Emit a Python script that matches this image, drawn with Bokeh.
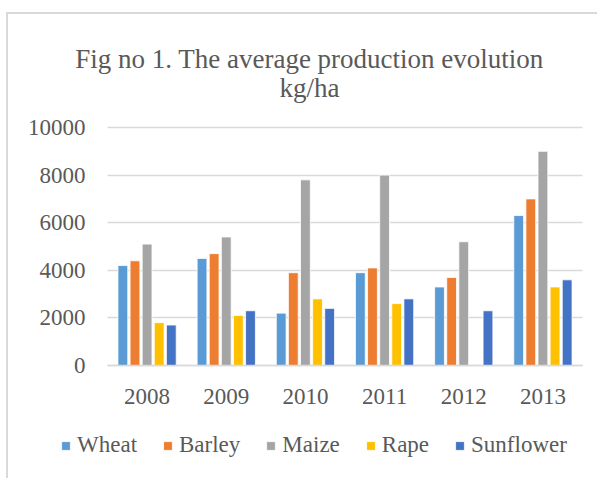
import numpy as np
from bokeh.plotting import figure
from bokeh.models import (Range1d, FixedTicker, Legend, LegendItem, Label,
                          ColumnDataSource)
from bokeh.embed import file_html
from bokeh.resources import INLINE

years = ["2008", "2009", "2010", "2011", "2012", "2013"]
wheat = [4200, 4500, 2200, 3900, 3300, 6300]
barley = [4400, 4700, 3900, 4100, 3700, 7000]
maize = [5100, 5400, 7800, 8000, 5200, 9000]
rape = [1800, 2100, 2800, 2600, 0, 3300]
sunflower = [1700, 2300, 2400, 2800, 2300, 3600]
series_names = ["Wheat", "Barley", "Maize", "Rape", "Sunflower"]
colors = ["#5B9BD5", "#ED7D31", "#A5A5A5", "#FFC000", "#4472C4"]
y_ticks = [0, 2000, 4000, 6000, 8000, 10000]
title_lines = ["Fig no 1. The average production evolution", "kg/ha"]

FONT = "Liberation Serif"
TXT = "#595959"
GRID = "#D9D9D9"

W, H = 597, 478
# pixel layout of the plotting area inside the canvas
PL, PR, PT, PB = 107, 582, 127, 365

pos = np.arange(1, len(years) + 1)          # category slots
x_lo, x_hi = pos[0] - 0.5, pos[-1] + 0.5
y_lo, y_hi = y_ticks[0], y_ticks[-1]
xs = (x_hi - x_lo) / (PR - PL)
ys = (y_hi - y_lo) / (PB - PT)

src = ColumnDataSource(dict(pos=pos, Wheat=wheat, Barley=barley, Maize=maize,
                            Rape=rape, Sunflower=sunflower))

p = figure(width=W, height=H,
           x_range=Range1d(x_lo - PL * xs, x_hi + (W - PR) * xs),
           y_range=Range1d(y_lo - (H - PB) * ys, y_hi + PT * ys),
           output_backend="svg", toolbar_location=None,
           min_border_left=0, min_border_right=0, min_border_top=0, min_border_bottom=0)
p.outline_line_color = None
p.background_fill_color = None
p.border_fill_color = None
p.styles = {
    "background": ("linear-gradient(#D9D9D9, #D9D9D9) 7px 12px / 100% 2px no-repeat, "
                   "linear-gradient(#D9D9D9, #D9D9D9) 6px 12px / 2px 100% no-repeat, white"),
}

pitch = 0.153
bar_w = 0.124
items = []
for i, (name, col) in enumerate(zip(series_names, colors)):
    r = p.vbar(x=pos + (i - 2) * pitch, top=src.data[name], width=bar_w,
               fill_color=col, line_color="white", line_width=0.8)
    items.append(LegendItem(label=name, renderers=[r]))

# grid
p.xgrid.grid_line_color = None
p.ygrid.ticker = FixedTicker(ticks=y_ticks)
p.ygrid.grid_line_color = GRID
p.ygrid.grid_line_width = 1.5
p.ygrid.cross_bounds = (x_lo, x_hi)

# axes drawn at fixed locations inside the canvas
yax = p.yaxis[0]
yax.fixed_location = x_lo
yax.ticker = FixedTicker(ticks=y_ticks)
yax.bounds = (y_lo, y_hi)
yax.axis_line_color = None
yax.major_tick_line_color = None
yax.minor_tick_line_color = None
yax.major_tick_out = 0
yax.major_label_standoff = 22
yax.major_label_text_font = FONT
yax.major_label_text_font_size = "23px"
yax.major_label_text_color = TXT

xax = p.xaxis[0]
xax.fixed_location = y_lo
xax.ticker = FixedTicker(ticks=list(pos))
xax.major_label_overrides = {int(k): v for k, v in zip(pos, years)}
xax.bounds = (x_lo, x_hi)
xax.axis_line_color = GRID
xax.axis_line_width = 1.5
xax.major_tick_line_color = None
xax.minor_tick_line_color = None
xax.major_tick_out = 0
xax.major_label_standoff = 23
xax.major_label_text_font = FONT
xax.major_label_text_font_size = "23px"
xax.major_label_text_color = TXT

legend = Legend(items=items, orientation="horizontal", location=(60, 20),
                padding=0, margin=0, spacing=25, label_standoff=6,
                glyph_width=11, glyph_height=11,
                label_text_font=FONT, label_text_font_size="23px",
                label_text_color=TXT, border_line_color=None,
                background_fill_alpha=0)
p.add_layout(legend, "center")

for txt, yy in zip(title_lines, [H - 58, H - 87]):
    p.add_layout(Label(x=309, y=yy, x_units="screen", y_units="screen", text=txt,
                       text_align="center", text_baseline="alphabetic",
                       text_font=FONT, text_font_size="27px", text_color=TXT))

open("out.html", "w").write(file_html(p, INLINE))
